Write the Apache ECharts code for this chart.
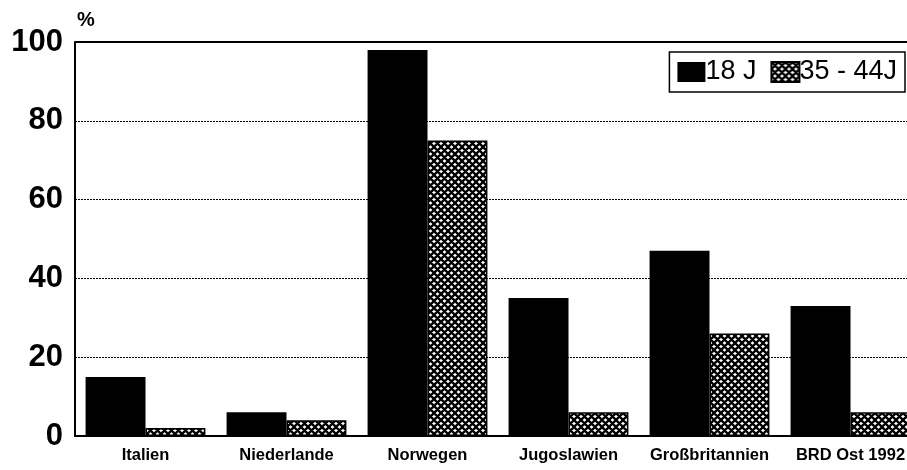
<!DOCTYPE html>
<html><head><meta charset="utf-8">
<script src="https://cdn.jsdelivr.net/npm/echarts@6/dist/echarts.min.js"></script>
<style>html,body{margin:0;padding:0;background:#fff}#c{width:907px;height:470px}</style>
</head><body><div id="c"></div>
<script>
const categories = ['Italien', 'Niederlande', 'Norwegen', 'Jugoslawien', 'Großbritannien', 'BRD Ost 1992'];
const young = [15, 6, 98, 35, 47, 33];
const older = [2, 4, 75, 6, 26, 6];
const seriesNames = ['18 J', '35 - 44J'];
const yTicks = [0, 20, 40, 60, 80, 100];

function hatch() {
  const c = document.createElement('canvas');
  c.width = 7; c.height = 7;
  const g = c.getContext('2d');
  g.fillStyle = '#fff'; g.fillRect(0, 0, 7, 7);
  g.strokeStyle = '#000'; g.lineWidth = 2.3;
  g.beginPath();
  for (const d of [-7, 0, 7]) {
    g.moveTo(d, 0); g.lineTo(d + 7, 7);
    g.moveTo(d + 7, 0); g.lineTo(d, 7);
  }
  g.stroke();
  return c;
}
const pat = { image: hatch(), repeat: 'repeat' };

const chart = echarts.init(document.getElementById('c'));
chart.setOption({
  animation: false,
  backgroundColor: '#fff',
  grid: { left: 75, top: 42, width: 846, height: 394, outerBoundsMode: 'none', containLabel: false },
  legend: {
    right: 2, top: 52,
    data: seriesNames,
    icon: 'rect', itemWidth: 28, itemHeight: 20, itemGap: 14,
    borderColor: '#000', borderWidth: 1.5, padding: [6, 8, 6, 8],
    textStyle: { fontFamily: 'Liberation Sans', fontSize: 27, color: '#000', fontWeight: 'normal', padding: [0, 0, 0, -5], lineHeight: 28 }
  },
  xAxis: {
    type: 'category', data: categories,
    axisLine: { lineStyle: { color: '#000', width: 2 } },
    axisTick: { show: false },
    axisLabel: { color: '#000', fontFamily: 'Liberation Sans', fontWeight: 'bold', fontSize: 16.5, margin: 11, interval: 0 }
  },
  yAxis: {
    type: 'value', min: 0, max: 100, interval: 20,
    name: '%', nameLocation: 'end', nameGap: 12,
    nameTextStyle: { color: '#000', fontFamily: 'Liberation Sans', fontWeight: 'bold', fontSize: 20, align: 'left', padding: [0, 0, 0, 2] },
    axisLine: { show: true, lineStyle: { color: '#000', width: 2 } },
    axisTick: { show: false },
    axisLabel: { color: '#000', fontFamily: 'Liberation Sans', fontWeight: 'bold', fontSize: 31, margin: 12,
      formatter: v => yTicks.includes(v) ? String(v) : '' },
    splitLine: { show: true, lineStyle: { color: '#000', width: 1, type: [2, 1] } }
  },
  series: [
    { name: seriesNames[0], type: 'bar', data: young, barGap: '0%', barCategoryGap: '15%',
      itemStyle: { color: '#000' } },
    { name: seriesNames[1], type: 'bar', data: older,
      itemStyle: { color: pat, borderColor: '#000', borderWidth: 1.5 } }
  ],
  graphic: [
    { type: 'line', shape: { x1: 75, y1: 42, x2: 907, y2: 42 }, style: { stroke: '#000', lineWidth: 2 }, z: 10 }
  ]
});
</script></body></html>
